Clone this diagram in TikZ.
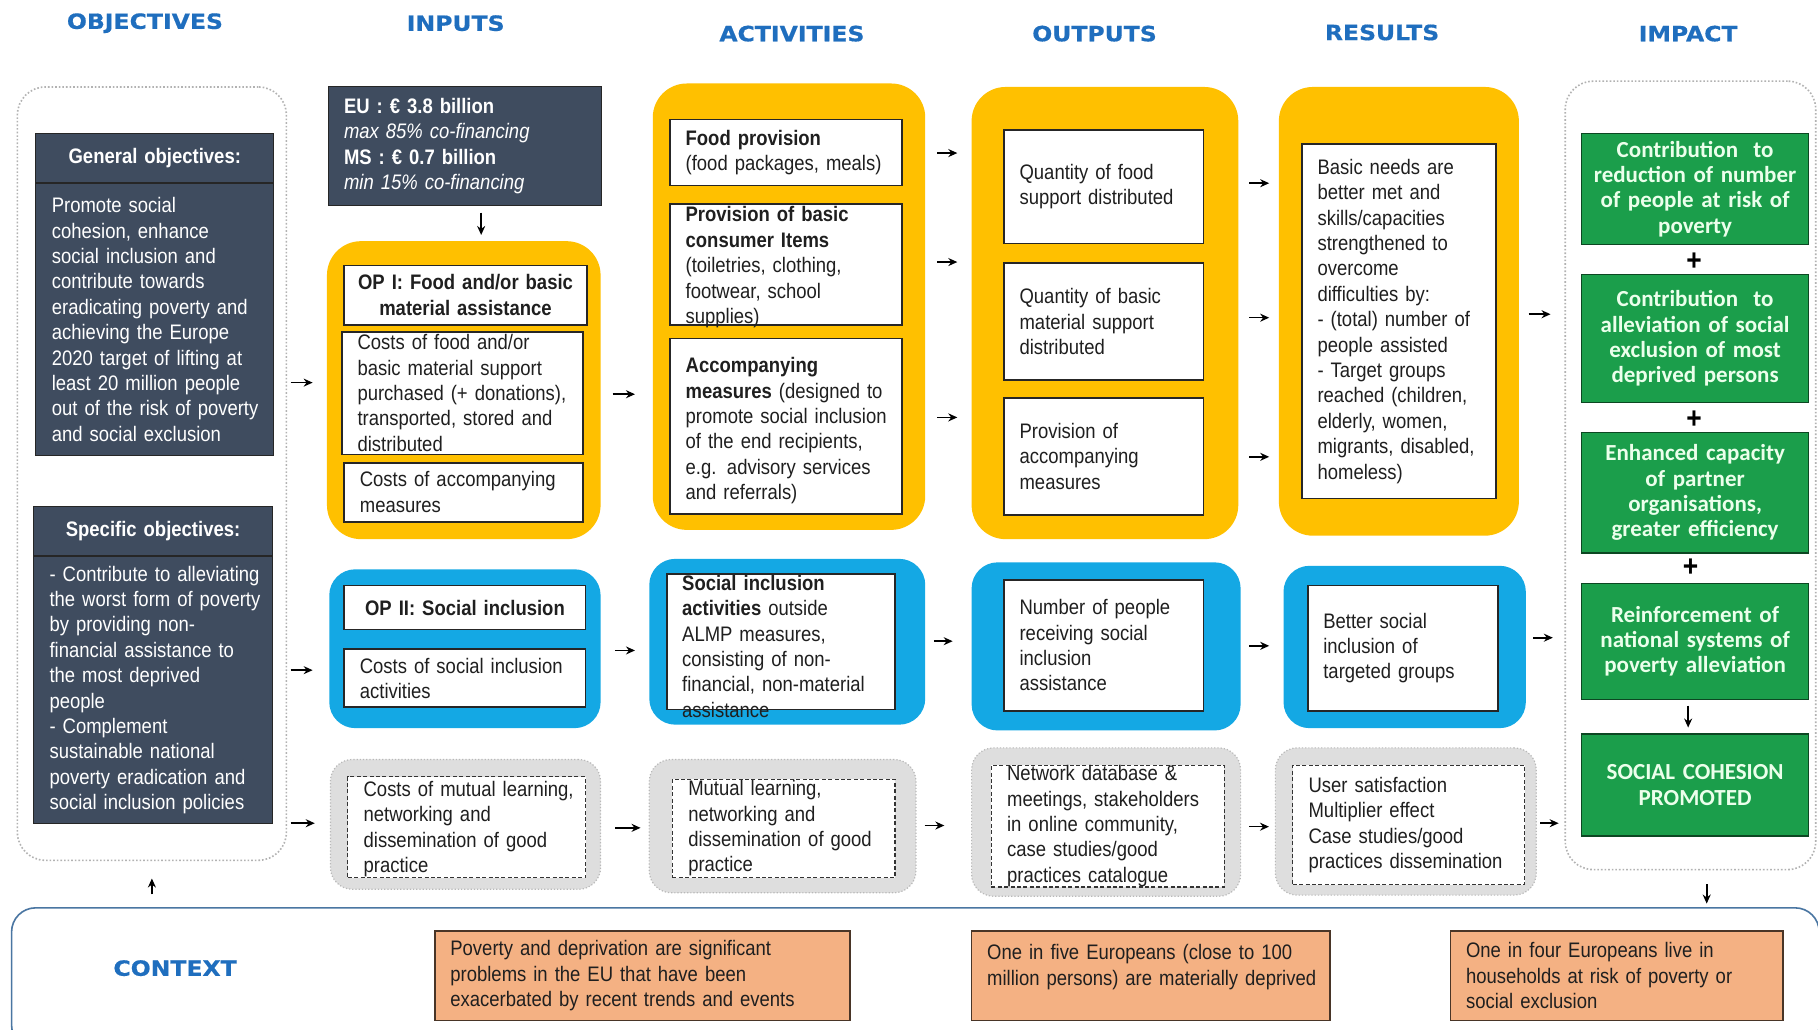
\documentclass[tikz,border=0pt]{standalone}
\usepackage{fontspec}
\setmainfont{Liberation Sans}[FakeStretch=0.88]
\newfontfamily\greenfont{Carlito}
\newfontfamily\hdrfont{DejaVu Sans}[FakeStretch=1.12,FakeBold=0.6]
\usetikzlibrary{arrows.meta,calc}
\definecolor{slate}{HTML}{3F4C5F}
\definecolor{gold}{HTML}{FFC000}
\definecolor{sky}{HTML}{14A8E4}
\definecolor{leaf}{HTML}{1B9E4B}
\definecolor{peach}{HTML}{F4B183}
\definecolor{hblue}{HTML}{1F6EBE}
\definecolor{lgray}{HTML}{DEDEDE}
\newcommand\uu{0.5797pt}
\newcommand\bodyfont{\fontsize{10.5}{12.7}\selectfont}
\tikzset{
  outerbox/.style={rounded corners=14pt, fill=white, draw=gray!60, densely dotted, line width=0.8pt},
  darkbox/.style={fill=slate, draw=black!85, line width=0.5pt},
  goldbox/.style={rounded corners=17pt, fill=gold},
  skybox/.style={rounded corners=13pt, fill=sky},
  graybox/.style={rounded corners=11pt, fill=lgray, draw=gray!55, densely dotted, line width=0.6pt},
  whitebox/.style={fill=white, draw=black!85, line width=0.9pt},
  dashbox/.style={fill=white, draw=black!80, dash pattern=on 2pt off 1.2pt, line width=0.6pt},
  greenbox/.style={fill=leaf, draw=black!55!leaf, line width=0.6pt},
  peachbox/.style={fill=peach, draw=black!70!peach, line width=0.8pt},
  ctxbox/.style={rounded corners=12pt, fill=white, draw=hblue!55!gray, line width=0.8pt},
  ltxt/.style={align=left, text=black!88},
  wtxt/.style={align=left, text=white},
  btxt/.style={align=center, text=black!88, font=\bodyfont\bfseries, text width=112pt},
  htxt/.style={align=center, text=white, font=\bodyfont\bfseries},
  gtxt/.style={align=center, text=white!92!green, font=\greenfont\bfseries\fontsize{11.5}{12.7}\selectfont, text width=110pt},
  hdr/.style={font=\hdrfont\bfseries\fontsize{10.5}{12}\selectfont, text=hblue},
  plus/.style={font=\bfseries\fontsize{15}{15}\selectfont, inner sep=0pt},
  arr/.style={-{Stealth[length=4.5pt,width=4pt]}, line width=0.8pt, black}
}
% box with left-aligned text: \bx[extra]{boxstyle}{name}{x1}{y1}{x2}{y2}{textstyle}{text}
\newcommand\bx[9][]{%
  \pgfmathsetlengthmacro\bxw{(#6-#4)*\uu}%
  \pgfmathsetlengthmacro\bxh{(#7-#5)*\uu}%
  \pgfmathsetlengthmacro\bxt{(#6-#4)*\uu-10pt}%
  \node[#2, minimum width=\bxw, minimum height=\bxh, inner sep=0pt, #1] (#3) at ({(#4+#6)/2},{(#5+#7)/2}) {};%
  \if\relax\detokenize{#9}\relax\else
  \node[text width=\bxt, inner sep=0pt, anchor=west, xshift=8pt, #8] (#3-t) at (#3.west) {#9};\fi}
% box with centred text
\newcommand\bxc[9][]{%
  \pgfmathsetlengthmacro\bxw{(#6-#4)*\uu}%
  \pgfmathsetlengthmacro\bxh{(#7-#5)*\uu}%
  \pgfmathsetlengthmacro\bxt{(#6-#4)*\uu-8pt}%
  \node[#2, minimum width=\bxw, minimum height=\bxh, inner sep=0pt, #1] (#3) at ({(#4+#6)/2},{(#5+#7)/2}) {};%
  \node[text width=\bxt, inner sep=0pt, #8] (#3-t) at (#3.center) {#9};}
\newcommand\harr[5]{\draw[arr] ($(#1.east |- 0,#3)+(#4,0)$) -- ($(#2.west |- 0,#3)+(-#5,0)$);}
\newcommand\varr[5]{\draw[arr] ($(#1.south -| #3,0)+(0,#4)$) -- ($(#2.north -| #3,0)+(0,-#5)$);}
\begin{document}
\begin{tikzpicture}[x=0.5797pt,y=-0.5797pt,font=\bodyfont]
\clip (0,0) rectangle (1568,888);
\fill[white] (0,0) rectangle (1568,888);
% headers
\node[hdr] (hobj) at (125,20) {OBJECTIVES};
\node[hdr] (hin) at (393,20) {INPUTS};
\node[hdr] (hact) at (683,29) {ACTIVITIES};
\node[hdr] (hout) at (944,29) {OUTPUTS};
\node[hdr] (hres) at (1192,28) {RESULTS};
\node[hdr] (himp) at (1456,29) {IMPACT};
% context band
\bx{ctxbox}{ctx}{10}{783}{1569}{905}{}{}
\node[hdr] (hctx) at (151,835) {CONTEXT};
\bx{peachbox}{c1}{375}{803}{733}{880}{ltxt}{Poverty and deprivation are significant\\problems in the EU that have been\\exacerbated by recent trends and events}
\bx{peachbox}{c2}{838}{803}{1147}{880}{ltxt,yshift=4.3pt}{One in five Europeans (close to 100\\million persons) are materially deprived}
\bx{peachbox}{c3}{1251}{803}{1538}{880}{ltxt}{One in four Europeans live in\\households at risk of poverty or\\social exclusion}
% objectives
\bx{outerbox}{objout}{15}{75}{247}{742}{}{}
\bxc{darkbox}{genh}{31}{115}{236}{157}{htxt}{General objectives:}
\bx{darkbox}{genb}{31}{158}{236}{393}{wtxt}{Promote social\\cohesion, enhance\\social inclusion and\\contribute towards\\eradicating poverty and\\achieving the Europe\\2020 target of lifting at\\least 20 million people\\out of the risk of poverty\\and social exclusion}
\bxc{darkbox}{spech}{29}{437}{235}{479}{htxt}{Specific objectives:}
\bx{darkbox}{specb}{29}{480}{235}{710}{wtxt}{- Contribute to alleviating\\the worst form of poverty\\by providing non-\\financial assistance to\\the most deprived\\people\\- Complement\\sustainable national\\poverty eradication and\\social inclusion policies}
% inputs
\bx{darkbox}{eu}{283}{75}{519}{177}{wtxt}{\textbf{EU : € 3.8 billion}\\\textit{max 85\% co-financing}\\\textbf{MS : € 0.7 billion}\\\textit{min 15\% co-financing}}
\bx{goldbox}{op1}{282}{208}{518}{465}{}{}
\bxc{whitebox}{op1t}{297}{229}{506}{280}{btxt}{OP I: Food and/or basic\\material assistance}
\bx{whitebox}{op1a}{295}{286}{503}{392}{ltxt}{Costs of food and/or\\basic material support\\purchased (+ donations),\\transported, stored and\\distributed}
\bx{whitebox}{op1b}{297}{399}{503}{450}{ltxt}{Costs of accompanying\\measures}
\bx{skybox}{op2}{284}{491}{518}{628}{}{}
\bxc{whitebox}{op2t}{297}{505}{505}{543}{btxt}{OP II: Social inclusion}
\bx{whitebox}{op2a}{297}{560}{505}{610}{ltxt}{Costs of social inclusion\\activities}
\bx{graybox}{ig}{285}{655}{518}{767}{}{}
\bx{dashbox}{ig1}{300}{670}{505}{757}{ltxt,yshift=-0.8pt}{Costs of mutual learning,\\networking and\\dissemination of good\\practice}
% activities
\bx{goldbox}{ay}{563}{72}{798}{457}{}{}
\bx{whitebox}{a1}{578}{103}{778}{160}{ltxt}{\textbf{Food provision}\\(food packages, meals)}
\bx{whitebox}{a2}{578}{176}{778}{280}{ltxt,yshift=-1.5pt}{\textbf{Provision of basic}\\\textbf{consumer Items}\\(toiletries, clothing,\\footwear, school\\supplies)}
\bx{whitebox}{a3}{578}{292}{778}{443}{ltxt,yshift=-2.3pt}{\textbf{Accompanying}\\\textbf{measures} (designed to\\promote social inclusion\\of the end recipients,\\e.g. advisory services\\and referrals)}
\bx{skybox}{ab}{560}{482}{798}{625}{}{}
\bx{whitebox}{ab1}{575}{495}{772}{612}{ltxt,yshift=-2.3pt}{\textbf{Social inclusion}\\\textbf{activities} outside\\ALMP measures,\\consisting of non-\\financial, non-material\\assistance}
\bx{graybox}{ag}{560}{655}{790}{770}{}{}
\bx{dashbox}{ag1}{580}{672}{772}{757}{ltxt}{Mutual learning,\\networking and\\dissemination of good\\practice}
% outputs
\bx{goldbox}{oy}{838}{75}{1068}{465}{}{}
\bx{whitebox}{o1}{866}{112}{1038}{210}{ltxt}{Quantity of food\\support distributed}
\bx{whitebox}{o2}{866}{227}{1038}{328}{ltxt}{Quantity of basic\\material support\\distributed}
\bx{whitebox}{o3}{866}{343}{1038}{444}{ltxt}{Provision of\\accompanying\\measures}
\bx{skybox}{ob}{838}{485}{1070}{630}{}{}
\bx{whitebox}{ob1}{866}{500}{1038}{613}{ltxt}{Number of people\\receiving social\\inclusion\\assistance}
\bx{graybox}{og}{838}{645}{1070}{773}{}{}
\bx{dashbox}{og1}{855}{660}{1056}{765}{ltxt}{Network database \&\\meetings, stakeholders\\in online community,\\case studies/good\\practices catalogue}
% results
\bx{goldbox}{ry}{1103}{75}{1310}{462}{}{}
\bx{whitebox}{ry1}{1123}{124}{1290}{430}{ltxt}{Basic needs are\\better met and\\skills/capacities\\strengthened to\\overcome\\difficulties by:\\- (total) number of\\people assisted\\- Target groups\\reached (children,\\elderly, women,\\migrants, disabled,\\homeless)}
\bx{skybox}{rb}{1107}{488}{1316}{628}{}{}
\bx{whitebox}{rb1}{1128}{505}{1292}{613}{ltxt}{Better social\\inclusion of\\targeted groups}
\bx{graybox}{rg}{1100}{645}{1325}{772}{}{}
\bx{dashbox}{rg1}{1115}{660}{1315}{763}{ltxt}{User satisfaction\\Multiplier effect\\Case studies/good\\practices dissemination}
% impact
\bx{outerbox}{imp}{1350}{70}{1566}{750}{}{}
\bxc{greenbox}{g1}{1364}{115}{1560}{211}{gtxt}{Contribution\ \ to\\reduction of number\\of people at risk of\\poverty}
\node[plus] (p1) at (1461,226) {+};
\bxc{greenbox}{g2}{1364}{237}{1560}{347}{gtxt}{Contribution\ \ to\\alleviation of social\\exclusion of most\\deprived persons}
\node[plus] (p2) at (1461,362) {+};
\bxc{greenbox}{g3}{1364}{373}{1560}{477}{gtxt}{Enhanced capacity\\of partner\\organisations,\\greater efficiency}
\node[plus] (p3) at (1458,490) {+};
\bxc{greenbox}{g4}{1364}{503}{1560}{603}{gtxt}{Reinforcement of\\national systems of\\poverty alleviation}
\bxc{greenbox}{g5}{1364}{633}{1560}{721}{gtxt}{SOCIAL COHESION\\PROMOTED}
% arrows
\harr{objout}{op1}{330}{3}{12}
\harr{objout}{op2}{578}{3}{14}
\harr{objout}{ig}{710}{3}{13}
\varr{eu}{op1}{415}{6}{5}
\harr{op1}{ay}{340}{10}{15}
\harr{op2}{ab}{561}{12}{12}
\harr{ig}{ag}{714}{12}{7}
\harr{ay}{oy}{132}{10}{12}
\harr{ay}{oy}{226}{10}{12}
\harr{ay}{oy}{360}{10}{12}
\harr{ab}{ob}{553}{7}{16}
\harr{ag}{og}{712}{7}{23}
\harr{oy}{ry}{158}{9}{8}
\harr{oy}{ry}{274}{9}{8}
\harr{oy}{ry}{394}{9}{8}
\harr{ob}{rb}{557}{7}{12}
\harr{og}{rg}{713}{7}{5}
\harr{ry}{imp}{271}{8}{12}
\harr{rb}{imp}{550}{6}{10}
\harr{rg}{imp}{710}{3}{5}
\varr{g4}{g5}{1456}{5}{5}
\varr{imp}{ctx}{1472}{12}{3}
\draw[arr] ($(ctx.north -| 131,0)+(0,-11)$) -- ($(objout.south -| 131,0)+(0,15)$);
\end{tikzpicture}
\end{document}
